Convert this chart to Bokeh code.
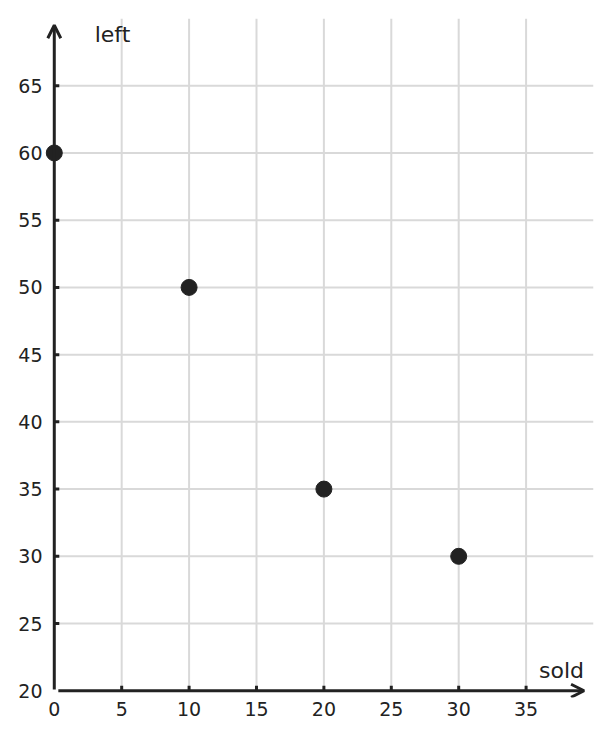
import math
from bokeh.plotting import figure
from bokeh.models import Range1d, FixedTicker, Arrow, OpenHead, Label
from bokeh.embed import file_html
from bokeh.resources import INLINE

sold = [0, 10, 20, 30]
left = [60, 50, 35, 30]
x_ticks = [0, 5, 10, 15, 20, 25, 30, 35]
y_ticks = [20, 25, 30, 35, 40, 45, 50, 55, 60, 65]
x_label = "sold"
y_label = "left"

XMIN, XMAX = 0, 40
YMIN, YMAX = 20, 70
INK = "#222222"
GRID = "#d9d9d9"
FONT = "DejaVu Sans"

p = figure(width=602, height=732, output_backend="svg", toolbar_location=None,
           x_range=Range1d(XMIN - 0.8, XMAX), y_range=Range1d(YMIN - 0.5, YMAX),
           min_border_left=43, min_border_right=9, min_border_top=18, min_border_bottom=35)
p.outline_line_color = None
p.background_fill_color = "white"
p.xgrid.visible = False
p.ygrid.visible = False

# grid lines (from tick lists, limited to the axes' extent)
gx = x_ticks[1:]
p.segment(x0=gx, y0=[YMIN] * len(gx), x1=gx, y1=[YMAX] * len(gx),
          line_color=GRID, line_width=2)
gy = y_ticks[1:]
p.segment(x0=[XMIN] * len(gy), y0=gy, x1=[XMAX] * len(gy), y1=gy,
          line_color=GRID, line_width=2)

# tick labels via the frame-edge axes (no lines / ticks)
p.xaxis.ticker = FixedTicker(ticks=x_ticks)
p.yaxis.ticker = FixedTicker(ticks=y_ticks)
for ax in (p.xaxis, p.yaxis):
    ax.axis_line_color = None
    ax.major_tick_line_color = None
    ax.minor_tick_line_color = None
    ax.major_tick_in = 0
    ax.major_tick_out = 0
    ax.major_label_text_font = FONT
    ax.major_label_text_font_size = "19px"
    ax.major_label_text_color = INK
p.xaxis.major_label_standoff = 4
p.yaxis.major_label_standoff = 1

# inward tick marks at the true axes (x = 0, y = 20)
p.ray(x=x_ticks[1:], y=[YMIN] * (len(x_ticks) - 1), length=5, length_units="screen",
      angle=math.pi / 2, line_color=INK, line_width=3)
p.ray(x=[XMIN] * (len(y_ticks) - 1), y=y_ticks[1:], length=5, length_units="screen",
      angle=0, line_color=INK, line_width=3)

# axis lines with arrow heads
p.add_layout(Arrow(end=OpenHead(size=13, line_width=3, line_color=INK),
                   x_start=XMIN, y_start=YMIN + 0.1, x_end=XMIN, y_end=YMAX - 0.5,
                   line_width=3, line_color=INK))
p.add_layout(Arrow(end=OpenHead(size=13, line_width=3, line_color=INK),
                   x_start=XMIN + 0.3, y_start=YMIN, x_end=XMAX - 0.7, y_end=YMIN,
                   line_width=3, line_color=INK))

p.scatter(sold, left, size=16, color=INK)

p.add_layout(Label(x=XMIN + 3, y=YMAX - 1.2, text=y_label, text_font=FONT,
                   text_font_size="22px", text_color=INK, text_baseline="middle"))
p.add_layout(Label(x=XMAX - 0.7, y=YMIN + 0.6, text=x_label, text_font=FONT,
                   text_font_size="22px", text_color=INK, text_align="right",
                   text_baseline="bottom"))

open("out.html", "w").write(file_html(p, INLINE))
